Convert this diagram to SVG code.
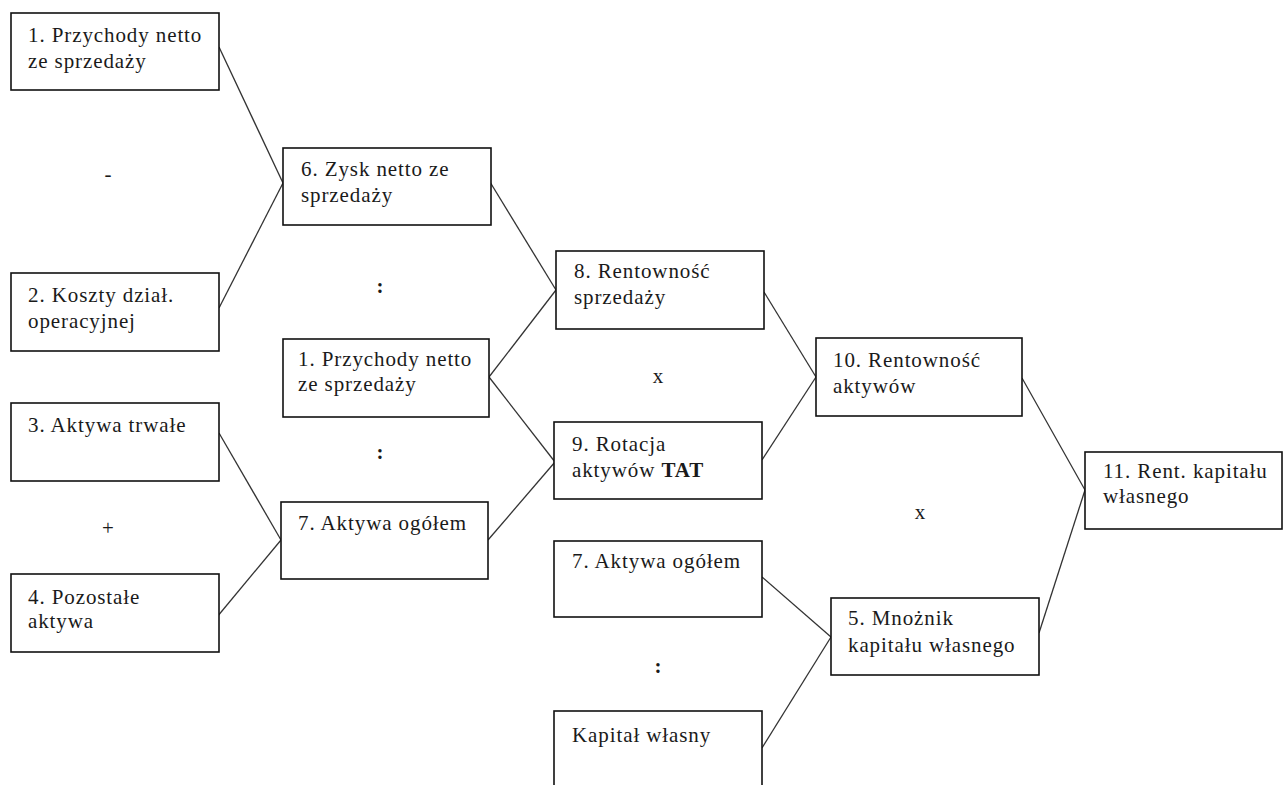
<svg xmlns="http://www.w3.org/2000/svg" width="1284" height="785" viewBox="0 0 1284 785">
<style>
.box{fill:#fff;stroke:#111;stroke-width:1.6}
.t{letter-spacing:0.9px}
.op{text-anchor:middle}
.b{font-weight:bold}
#connectors line{stroke:#333;stroke-width:1.3}
</style>
<rect width="1284" height="785" fill="#fff"/>
<g id="connectors">
<line x1="219" y1="47" x2="283" y2="183"/>
<line x1="219" y1="308" x2="283" y2="183"/>
<line x1="490" y1="182" x2="556" y2="290"/>
<line x1="489" y1="377" x2="556" y2="290"/>
<line x1="489" y1="377" x2="555" y2="462"/>
<line x1="219" y1="433" x2="281" y2="540"/>
<line x1="217" y1="617" x2="281" y2="540"/>
<line x1="488" y1="540" x2="555" y2="462"/>
<line x1="764" y1="292" x2="816" y2="377"/>
<line x1="762" y1="460" x2="816" y2="377"/>
<line x1="1022" y1="378" x2="1085" y2="490"/>
<line x1="1039" y1="633" x2="1085" y2="490"/>
<line x1="762" y1="577" x2="831" y2="637"/>
<line x1="762" y1="748" x2="831" y2="637"/>
</g>
<g font-family="Liberation Serif, serif" font-size="21" fill="#1a1a1a">
<g id="operators">
<text class="op" x="108" y="181">-</text>
<text class="op b" x="380" y="293">:</text>
<text class="op" x="108" y="535">+</text>
<text class="op b" x="380" y="459">:</text>
<text class="op" x="658" y="383">x</text>
<text class="op" x="920" y="519">x</text>
<text class="op b" x="658" y="673">:</text>
</g>
<g id="n1"><rect class="box" x="11" y="13" width="208" height="77"/><text class="t" x="28" y="42">1. Przychody netto</text><text class="t" x="28" y="68">ze sprzedaży</text></g>
<g id="n2"><rect class="box" x="11" y="273" width="208" height="78"/><text class="t" x="28" y="302">2. Koszty dział.</text><text class="t" x="28" y="328">operacyjnej</text></g>
<g id="n6"><rect class="box" x="283" y="148" width="208" height="77"/><text class="t" x="301" y="176">6. Zysk netto ze</text><text class="t" x="301" y="202">sprzedaży</text></g>
<g id="n1b"><rect class="box" x="283" y="339" width="206" height="78"/><text class="t" x="298" y="366">1. Przychody netto</text><text class="t" x="298" y="391">ze sprzedaży</text></g>
<g id="n3"><rect class="box" x="11" y="403" width="208" height="78"/><text class="t" x="28" y="432">3. Aktywa trwałe</text></g>
<g id="n7"><rect class="box" x="281" y="502" width="207" height="77"/><text class="t" x="298" y="530">7. Aktywa ogółem</text></g>
<g id="n4"><rect class="box" x="11" y="574" width="208" height="78"/><text class="t" x="28" y="604">4. Pozostałe</text><text class="t" x="28" y="628">aktywa</text></g>
<g id="n8"><rect class="box" x="556" y="251" width="208" height="78"/><text class="t" x="574" y="278">8. Rentowność</text><text class="t" x="574" y="304">sprzedaży</text></g>
<g id="n9"><rect class="box" x="554" y="422" width="208" height="77"/><text class="t" x="572" y="451">9. Rotacja</text><text class="t" x="572" y="477">aktywów <tspan class="b">TAT</tspan></text></g>
<g id="n7b"><rect class="box" x="554" y="541" width="208" height="76"/><text class="t" x="572" y="568">7. Aktywa ogółem</text></g>
<g id="nK"><rect class="box" x="554" y="711" width="208" height="80"/><text class="t" x="572" y="742">Kapitał własny</text></g>
<g id="n10"><rect class="box" x="816" y="338" width="206" height="78"/><text class="t" x="833" y="367">10. Rentowność</text><text class="t" x="833" y="393">aktywów</text></g>
<g id="n5"><rect class="box" x="831" y="598" width="208" height="77"/><text class="t" x="848" y="625">5. Mnożnik</text><text class="t" x="848" y="652">kapitału własnego</text></g>
<g id="n11"><rect class="box" x="1085" y="452" width="197" height="77"/><text class="t" x="1103" y="478">11. Rent. kapitału</text><text class="t" x="1103" y="503">własnego</text></g>
</g>
</svg>
